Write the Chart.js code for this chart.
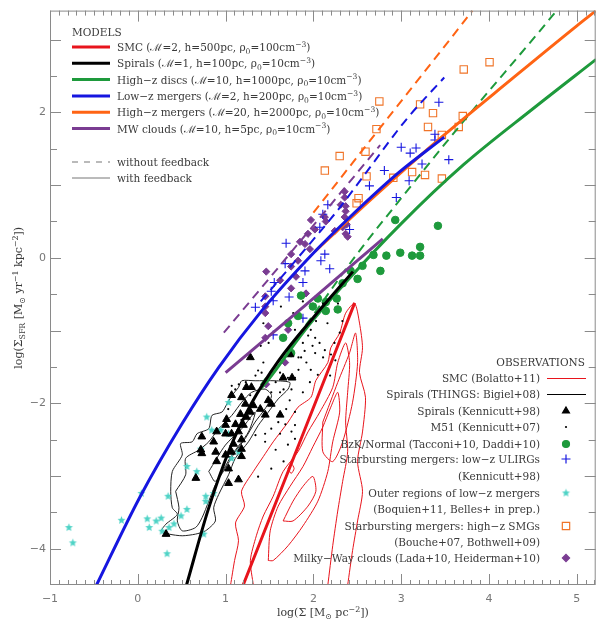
<!DOCTYPE html>
<html><head><meta charset="utf-8">
<script src="https://cdn.jsdelivr.net/npm/chart.js@4.4.1/dist/chart.umd.min.js"></script>
<style>html,body{margin:0;padding:0;background:#fff}canvas{display:block}</style>
</head><body>
<canvas id="c" width="602" height="626" style="width:602px;height:626px"></canvas>
<script>
// ---------- axis ticks ----------
const xTickValues = [-1, 0, 1, 2, 3, 4, 5];
const yTickValues = [-4, -2, 0, 2];

// ---------- model curves: with feedback (solid) ----------
const smcFb      = [[1.20,-4.5],[1.84,-2.55],[2.47,-0.62]];
const spiralsFb  = [[0.555,-4.5],[0.80,-3.47],[1.05,-2.62],[1.30,-1.99],[1.60,-1.42],[2.00,-0.82],[2.45,-0.19]];
const highzFb    = [[1.40,-1.80],[1.49,-1.67],[1.90,-1.00],[2.39,-0.31],[3.00,0.47],[3.71,1.28],[4.50,2.05],[5.22,2.73]];
const lowzFb     = [[-0.47,-4.5],[0.02,-3.30],[0.50,-2.29],[0.92,-1.51],[1.41,-0.73],[2.02,0.09],[2.39,0.53],[2.96,1.16],[3.49,1.66]];
const highzMerFb = [[2.02,0.09],[2.70,0.85],[3.49,1.69],[4.25,2.45],[5.00,3.19],[5.22,3.40]];
const mwFb       = [[1.00,-1.58],[1.90,-0.66],[2.79,0.26]];
// ---------- model curves: without feedback (dashed) ----------
const highzNoFb    = [[1.40,-1.75],[1.90,-0.95],[2.47,0.01],[3.00,0.82],[3.67,1.82],[4.62,3.18],[4.77,3.40]];
const lowzNoFb     = [[1.40,-0.60],[1.83,0.01],[2.30,0.69],[2.58,1.14],[3.07,1.92],[3.49,2.48]];
const highzMerNoFb = [[2.00,0.62],[2.80,1.85],[3.67,3.18],[3.81,3.40]];
const mwNoFb       = [[0.98,-1.03],[1.90,0.30],[2.76,1.55]];

// ---------- observations ----------
const smcContour1 = [[1.056,-4.503],[1.102,-4.163],[1.147,-3.891],[1.113,-3.646],[1.215,-3.415],[1.181,-3.211],[1.316,-2.939],[1.429,-2.735],[1.542,-2.531],[1.712,-2.259],[1.825,-2.054],[1.972,-1.918],[2.028,-1.687],[2.164,-1.442],[2.198,-1.238],[2.299,-1.034],[2.367,-0.762],[2.469,-0.626],[2.525,-0.898],[2.559,-1.238],[2.525,-1.578],[2.593,-1.918],[2.559,-2.395],[2.503,-2.803],[2.559,-3.211],[2.503,-3.619],[2.446,-4.027],[2.390,-4.503]];
const smcContour2 = [[1.316,-4.503],[1.282,-4.163],[1.350,-3.823],[1.429,-3.551],[1.542,-3.279],[1.655,-2.939],[1.825,-2.667],[1.938,-2.395],[2.073,-2.122],[2.220,-1.782],[2.277,-1.442],[2.367,-1.170],[2.412,-1.442],[2.390,-1.850],[2.367,-2.259],[2.390,-2.667],[2.333,-3.075],[2.277,-3.483],[2.220,-3.959],[2.164,-4.503]];
const smcContour3 = [[1.486,-4.163],[1.508,-3.755],[1.599,-3.415],[1.734,-3.143],[1.881,-2.871],[1.994,-2.599],[2.107,-2.327],[2.198,-2.054],[2.277,-1.850],[2.299,-2.122],[2.220,-2.531],[2.164,-2.939],[2.051,-3.347],[1.881,-3.687],[1.712,-3.959],[1.542,-4.163],[1.486,-4.163]];
const smcContour4 = [[1.655,-3.619],[1.768,-3.347],[1.881,-3.143],[1.994,-3.007],[2.028,-3.211],[1.938,-3.415],[1.768,-3.619],[1.655,-3.619]];
const smcContour5 = [[2.107,-2.259],[2.277,-1.714],[2.412,-1.306],[2.480,-1.034],[2.503,-1.442],[2.446,-1.986],[2.333,-2.531],[2.220,-2.803],[2.107,-2.667],[2.107,-2.259]];
const smcContour6 = [[1.712,-2.898],[1.746,-2.830],[1.780,-2.898],[1.746,-2.966],[1.712,-2.898]];

const thingsContour1 = [[0.262,-3.755],[0.319,-3.664],[0.450,-3.528],[0.393,-3.438],[0.375,-3.211],[0.393,-2.939],[0.506,-2.712],[0.488,-2.554],[0.619,-2.531],[0.676,-2.418],[0.808,-2.350],[0.845,-2.167],[0.958,-2.122],[1.015,-2.010],[1.071,-1.895],[1.147,-1.782],[1.184,-1.691],[1.336,-1.691],[1.562,-1.691],[1.731,-1.714],[1.712,-1.805],[1.599,-1.941],[1.486,-2.122],[1.373,-2.303],[1.260,-2.531],[1.110,-2.758],[1.034,-2.984],[0.921,-3.256],[0.864,-3.438],[0.884,-3.619],[0.771,-3.755],[0.658,-3.800],[0.506,-3.823],[0.356,-3.800],[0.262,-3.755]];
const thingsContour2 = [[0.431,-3.211],[0.545,-2.984],[0.545,-2.758],[0.695,-2.644],[0.808,-2.531],[0.921,-2.350],[1.071,-2.167],[1.184,-1.986],[1.297,-1.850],[1.449,-1.805],[1.523,-1.895],[1.449,-2.077],[1.336,-2.259],[1.223,-2.486],[1.110,-2.667],[0.997,-2.894],[0.884,-3.120],[0.808,-3.347],[0.732,-3.574],[0.658,-3.710],[0.506,-3.755],[0.450,-3.619],[0.469,-3.438],[0.431,-3.211]];
const thingsContour3 = [[0.808,-2.939],[0.997,-2.576],[1.184,-2.350],[1.336,-2.122],[1.260,-2.395],[1.071,-2.712],[0.884,-3.075],[0.808,-2.939]];

const kenn98Spirals = [[1.237,-1.78],[1.294,-1.78],[1.655,-1.65],[1.068,-1.89],[1.181,-1.92],[1.486,-1.96],[1.226,-2.01],[1.316,-2.03],[1.395,-2.08],[1.520,-2.01],[1.282,-2.12],[1.169,-2.15],[1.237,-2.19],[1.452,-2.16],[1.011,-2.22],[1.113,-2.29],[1.203,-2.30],[1.621,-2.16],[1.147,-2.39],[1.068,-2.42],[1.181,-2.50],[0.898,-2.39],[1.000,-2.42],[0.729,-2.46],[0.864,-2.53],[1.090,-2.56],[1.181,-2.63],[1.068,-2.67],[0.887,-2.67],[1.000,-2.71],[1.181,-2.73],[0.718,-2.64],[0.729,-2.69],[0.898,-2.80],[1.034,-2.90],[0.661,-3.03],[1.147,-3.05],[1.034,-3.10],[0.322,-3.80],[1.000,-2.30],[1.282,-1.37],[1.734,-1.33],[1.757,-1.65]];
const m51 = [[1.63,-0.67],[1.77,-0.76],[1.79,-0.99],[1.88,-1.01],[1.97,-0.99],[1.94,-1.07],[2.02,-1.10],[2.07,-1.17],[1.99,-1.21],[1.88,-1.17],[1.79,-1.13],[1.90,-1.28],[2.02,-1.31],[2.13,-1.27],[2.11,-1.37],[2.20,-1.33],[1.86,-1.37],[1.92,-1.44],[1.97,-1.54],[1.83,-1.54],[1.79,-1.65],[2.05,-1.61],[1.40,-1.21],[1.43,-1.44],[1.37,-1.55],[1.57,-1.48],[1.62,-1.58],[2.19,-1.62],[2.24,-1.17],[1.71,-1.65],[1.07,-1.76],[1.15,-1.74],[1.34,-1.62],[1.41,-1.58],[1.57,-1.71],[1.62,-1.85],[1.66,-1.81],[1.75,-1.81],[1.52,-1.85],[1.73,-1.96],[1.69,-2.08],[1.79,-2.12],[1.60,-2.26],[1.68,-2.29],[1.79,-2.30],[1.75,-2.39],[1.52,-2.35],[1.62,-2.42],[1.45,-2.42],[1.34,-2.44],[1.45,-2.53],[1.57,-2.64],[1.66,-2.80],[1.37,-3.01],[1.23,-1.71],[1.11,-1.81],[1.28,-1.89],[1.03,-2.08],[1.18,-2.23],[1.79,-2.49],[1.71,-2.57],[1.52,-2.90],[2.28,-0.63],[2.33,-0.87],[2.30,-1.03],[2.25,-1.41],[2.16,-0.90],[2.11,-0.63],[2.03,-0.87],[1.88,-0.60],[1.43,-0.90],[1.49,-1.17],[1.83,-1.37],[1.96,-1.71],[1.88,-1.85]];
const bzkNormal = [[2.932,0.52],[3.418,0.44],[2.684,0.04],[2.831,0.03],[2.989,0.07],[3.124,0.03],[3.215,0.15],[3.215,0.03],[2.763,-0.18],[2.424,-0.18],[1.859,-0.52],[2.051,-0.56],[2.141,-0.61],[2.266,-0.56],[1.994,-0.67],[2.141,-0.73],[2.277,-0.71],[1.825,-0.80],[1.746,-1.31],[2.503,-0.29],[2.333,-0.35],[2.559,-0.11],[1.712,-0.90],[1.655,-1.10]];
const ulirgs = [[3.429,2.14],[3.384,1.70],[3.384,1.62],[3.542,1.35],[3.000,1.52],[3.102,1.44],[3.169,1.51],[3.237,1.29],[2.808,1.20],[3.090,1.06],[2.638,0.99],[2.944,0.83],[2.164,0.73],[2.107,0.60],[2.412,0.39],[2.073,0.42],[2.130,0.05],[2.085,-0.04],[2.186,-0.15],[1.904,-0.18],[1.689,0.20],[1.678,-0.08],[1.881,-0.34],[1.554,-0.34],[1.520,-0.46],[1.542,-0.59],[1.339,-0.68],[1.723,-0.54],[1.881,-0.83],[1.542,-1.06]];
const outerMergers = [[1.034,-1.99],[0.785,-2.19],[0.842,-2.37],[0.944,-2.37],[1.034,-2.42],[1.147,-2.67],[1.068,-2.76],[0.718,-2.63],[0.559,-2.87],[0.672,-2.94],[0.774,-3.28],[0.774,-3.35],[0.864,-3.24],[0.559,-3.46],[0.492,-3.55],[0.040,-3.24],[0.345,-3.28],[0.107,-3.59],[0.209,-3.62],[0.266,-3.58],[0.130,-3.71],[0.412,-3.66],[0.356,-3.71],[0.277,-3.76],[0.751,-3.80],[0.333,-4.07],[-0.186,-3.61],[-0.785,-3.71],[-0.74,-3.92]];
const smgs = [[2.751,2.15],[3.215,2.11],[3.362,1.99],[3.305,1.80],[3.701,1.95],[3.712,2.59],[4.006,2.69],[3.463,1.69],[3.655,1.80],[2.718,1.77],[2.593,1.46],[2.299,1.40],[2.130,1.20],[2.605,1.12],[2.910,1.10],[3.124,1.18],[3.271,1.14],[3.463,1.09],[2.514,0.82],[2.492,0.75]];
const mwClouds = [[1.972,0.52],[2.017,0.39],[1.938,0.33],[1.847,0.22],[1.746,0.05],[1.825,-0.04],[1.746,-0.12],[1.960,0.12],[1.463,-0.19],[1.621,-0.31],[1.802,-0.26],[1.746,-0.42],[1.915,-0.49],[1.452,-0.53],[1.452,-0.67],[1.452,-0.76],[1.486,-0.94],[1.712,-0.99],[1.452,-1.10],[2.243,0.37],[2.356,0.56],[2.356,0.83],[2.311,0.73],[2.141,0.50],[1.678,-1.44],[2.356,0.91],[2.367,0.71],[2.367,0.64],[2.379,0.46],[2.333,0.42],[2.367,0.33],[2.390,0.29],[2.130,0.56],[1.904,0.19],[1.463,-1.74]];

// ---------- legend texts ----------
const modelLabels = ['SMC (ℳ=2, h=500pc, ρ_{0}=100cm^{−3})','Spirals (ℳ=1, h=100pc, ρ_{0}=10cm^{−3})','High−z discs (ℳ=10, h=1000pc, ρ_{0}=10cm^{−3})','Low−z mergers (ℳ=2, h=200pc, ρ_{0}=10cm^{−3})','High−z mergers (ℳ=20, h=2000pc, ρ_{0}=10cm^{−3})','MW clouds (ℳ=10, h=5pc, ρ_{0}=10cm^{−3})'];
const modelColors = ['#e8141c','#000000','#1e9a3c','#1616e0','#ff6414','#7a3c92'];
const obsLabels = ['SMC (Bolatto+11)','Spirals (THINGS: Bigiel+08)','Spirals (Kennicutt+98)','M51 (Kennicutt+07)','BzK/Normal (Tacconi+10, Daddi+10)','Starbursting mergers: low−z ULIRGs','(Kennicutt+98)','Outer regions of low−z mergers','(Boquien+11, Belles+ in prep.)','Starbursting mergers: high−z SMGs','(Bouche+07, Bothwell+09)','Milky−Way clouds (Lada+10, Heiderman+10)'];

const SERIF = '"DejaVu Serif", "Liberation Serif", serif';
const TXT = '#3a3a3a';

function starImg(r, color){
  const s = Math.ceil(r*2+2), c = document.createElement('canvas');
  c.width = c.height = s; const g = c.getContext('2d');
  g.fillStyle = color; g.beginPath();
  for (let i=0;i<10;i++){ const a=-Math.PI/2+i*Math.PI/5, rr=i%2?r*0.45:r; g.lineTo(s/2+rr*Math.cos(a), s/2+rr*Math.sin(a)); }
  g.closePath(); g.fill(); return c;
}
const STAR = starImg(4.2, '#4fd3c6');

const P = a => a.map(([x,y]) => ({x, y}));
function curve(pts, color, dashed){
  return {data:P(pts), showLine:true, borderColor:color, borderWidth: dashed?2:3, borderDash: dashed?[9,6]:[],
    pointRadius:0, pointHoverRadius:0, cubicInterpolationMode:'monotone', fill:false, clip:0};
}
function contour(pts, color){
  return {data:P(pts), showLine:true, borderColor:color, borderWidth:1, pointRadius:0, tension:0.25, fill:false, clip:0};
}
function pts(pts, style, radius, bg, border, bw, rot){
  return {data:P(pts), showLine:false, pointStyle:style, pointRadius:radius, pointHoverRadius:radius,
    backgroundColor:bg, borderColor:border, pointBorderWidth:bw, borderWidth:bw, pointRotation:rot||0, clip:0};
}

const datasets = [
  curve(smcFb, modelColors[0]), curve(spiralsFb, modelColors[1]), curve(highzFb, modelColors[2]),
  curve(lowzFb, modelColors[3]), curve(highzMerFb, modelColors[4]), curve(mwFb, modelColors[5]),
  curve(highzNoFb, modelColors[2], true), curve(lowzNoFb, modelColors[3], true),
  curve(highzMerNoFb, modelColors[4], true), curve(mwNoFb, modelColors[5], true),
  pts(kenn98Spirals, 'triangle', 4.5, '#000', '#000', 1),
  pts(m51, 'circle', 1.1, '#000', '#000', 0),
  pts(bzkNormal, 'circle', 3.8, '#1e9a3c', '#1e9a3c', 1),
  pts(ulirgs, 'cross', 4.5, '#1616e0', '#1616e0', 1.1),
  pts(outerMergers, STAR, 4, '#4fd3c6', '#4fd3c6', 0),
  pts(smgs, 'rect', 5.2, 'rgba(0,0,0,0)', '#f07428', 1.1),
  pts(mwClouds, 'rectRot', 3.6, '#7a3c92', '#7a3c92', 1),
  contour(thingsContour1, '#222'), contour(thingsContour2, '#222'), contour(thingsContour3, '#222'),
  contour(smcContour1, '#e8141c'), contour(smcContour2, '#e8141c'), contour(smcContour3, '#e8141c'),
  contour(smcContour4, '#e8141c'), contour(smcContour5, '#e8141c'), contour(smcContour6, '#e8141c')
];

function parseRich(s){
  const segs=[]; let buf='', i=0;
  while(i<s.length){
    if((s[i]==='^'||s[i]==='_') && s[i+1]==='{'){
      if(buf){segs.push({t:buf,m:0}); buf='';}
      const j=s.indexOf('}',i); segs.push({t:s.slice(i+2,j), m:s[i]==='^'?1:-1}); i=j+1;
    } else { buf+=s[i]; i++; }
  }
  if(buf) segs.push({t:buf,m:0});
  return segs;
}
function drawRich(ctx, s, x, y, size, align){
  const segs = parseRich(s);
  const f = m => (m? (size*0.72).toFixed(1) : size) + 'px ' + SERIF;
  let w = 0; segs.forEach(g => { ctx.font = f(g.m); w += ctx.measureText(g.t).width; });
  let cx = align==='right' ? x-w : align==='center' ? x-w/2 : x;
  ctx.textBaseline = 'alphabetic'; ctx.textAlign = 'left';
  segs.forEach(g => { ctx.font = f(g.m); ctx.fillText(g.t, cx, y + (g.m===1 ? -size*0.4 : g.m===-1 ? size*0.25 : 0)); cx += ctx.measureText(g.t).width; });
}

const framePlugin = {
  id:'frame',
  afterDatasetsDraw(chart){
    const {ctx, chartArea:a, scales:{x, y}} = chart;
    ctx.save(); ctx.strokeStyle = '#8a8a8a'; ctx.lineWidth = 1;
    ctx.strokeRect(a.left+0.5, a.top+0.5, a.right-a.left-1, a.bottom-a.top-1);
    ctx.beginPath();
    for (let i=-10;i<=52;i++){
      const v=i/10, px=Math.round(x.getPixelForValue(v))+0.5; if(px<a.left||px>a.right) continue;
      const L = i%10===0 ? 11 : 5;
      ctx.moveTo(px,a.bottom); ctx.lineTo(px,a.bottom-L); ctx.moveTo(px,a.top); ctx.lineTo(px,a.top+L);
    }
    for (let i=-9;i<=6;i++){
      const v=i/2, py=Math.round(y.getPixelForValue(v))+0.5; if(py<a.top||py>a.bottom) continue;
      const L = i%2===0 ? 11 : 7;
      ctx.moveTo(a.left,py); ctx.lineTo(a.left+L,py); ctx.moveTo(a.right,py); ctx.lineTo(a.right-L,py);
    }
    ctx.stroke(); ctx.restore();
  },
  afterDraw(chart){
    const {ctx, chartArea:a} = chart;
    ctx.save(); ctx.fillStyle = TXT;
    drawRich(ctx, 'log(Σ [M_{⊙} pc^{−2}])', (a.left+a.right)/2, 616, 11, 'center');
    ctx.save(); ctx.translate(22, (a.top+a.bottom)/2); ctx.rotate(-Math.PI/2);
    drawRich(ctx, 'log(Σ_{SFR} [M_{⊙} yr^{−1} kpc^{−2}])', 0, 0, 11, 'center'); ctx.restore();
    ctx.font = '10.5px ' + SERIF; ctx.fillText('MODELS', 72, 36);
    modelLabels.forEach((t,i) => {
      const yy = 47 + i*16.3;
      ctx.strokeStyle = modelColors[i]; ctx.lineWidth = 3; ctx.setLineDash([]);
      ctx.beginPath(); ctx.moveTo(72, yy); ctx.lineTo(110, yy); ctx.stroke();
      ctx.fillStyle = TXT; drawRich(ctx, t, 117, yy+4, 10.5, 'left');
    });
    ctx.strokeStyle = '#777'; ctx.lineWidth = 1;
    ctx.setLineDash([6,6]); ctx.beginPath(); ctx.moveTo(72,162); ctx.lineTo(110,162); ctx.stroke();
    ctx.setLineDash([]); ctx.beginPath(); ctx.moveTo(72,178); ctx.lineTo(110,178); ctx.stroke();
    drawRich(ctx, 'without feedback', 117, 166, 10.5, 'left');
    drawRich(ctx, 'with feedback', 117, 182, 10.5, 'left');
    drawRich(ctx, 'OBSERVATIONS', 585, 366, 10.5, 'right');
    const rows = [378,394,411,427,444,459,476,493,509,526,542,558];
    obsLabels.forEach((t,i) => drawRich(ctx, t, 540, rows[i]+4, 10.5, 'right'));
    const H = Chart.helpers;
    ctx.lineWidth = 1.2; ctx.strokeStyle = '#e8141c'; ctx.beginPath(); ctx.moveTo(547,378.5); ctx.lineTo(586,378.5); ctx.stroke();
    ctx.strokeStyle = '#000'; ctx.beginPath(); ctx.moveTo(547,394.5); ctx.lineTo(586,394.5); ctx.stroke();
    const mk = (style, r, fill, stroke, bw, yy) => { ctx.fillStyle = fill; ctx.strokeStyle = stroke; H.drawPoint(ctx, {pointStyle:style, radius:r, borderWidth:bw, rotation:0}, 566, yy); };
    mk('triangle', 4, '#000', '#000', 1, rows[2]);
    mk('circle', 1.1, '#000', '#000', 0, rows[3]);
    mk('circle', 3.5, '#1e9a3c', '#1e9a3c', 1, rows[4]);
    mk('cross', 4.5, '#1616e0', '#1616e0', 1.1, rows[5]);
    ctx.drawImage(STAR, 566-STAR.width/2, rows[7]-STAR.height/2);
    mk('rect', 5.2, 'rgba(0,0,0,0)', '#f07428', 1.1, rows[9]);
    mk('rectRot', 3.6, '#7a3c92', '#7a3c92', 1, rows[11]);
    ctx.restore();
  }
};

new Chart(document.getElementById('c'), {
  type:'scatter',
  data:{datasets},
  options:{
    responsive:false, devicePixelRatio:1, animation:false,
    layout:{padding:{top:4, right:2, left:0, bottom:0}},
    plugins:{legend:{display:false}, tooltip:{enabled:false}},
    scales:{
      x:{type:'linear', min:-1, max:5.215,
        afterFit(s){ s.height = 41; },
        afterBuildTicks(s){ s.ticks = xTickValues.map(v => ({value:v})); },
        grid:{display:false, drawTicks:false}, border:{display:false},
        ticks:{padding:8, autoSkip:false, maxRotation:0, color:'#777', font:{family:'"DejaVu Sans", sans-serif', size:11},
          callback:v => String(v).replace('-', '−')}},
      y:{type:'linear', min:-4.5, max:3.4,
        afterFit(s){ s.width = 50; },
        afterBuildTicks(s){ s.ticks = yTickValues.map(v => ({value:v})); },
        grid:{display:false, drawTicks:false}, border:{display:false},
        ticks:{padding:4, color:'#777', font:{family:'"DejaVu Sans", sans-serif', size:11},
          callback:v => String(v).replace('-', '−')}}
    }
  },
  plugins:[framePlugin]
});
</script>
</body></html>
